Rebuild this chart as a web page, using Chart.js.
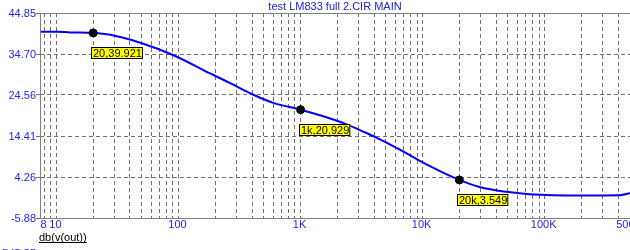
<!DOCTYPE html>
<html>
<head>
<meta charset="utf-8">
<script src="https://cdn.jsdelivr.net/npm/chart.js@4/dist/chart.umd.min.js"></script>
<style>
  html, body { margin: 0; padding: 0; background: #fff; }
  #chart { display: block; }
</style>
</head>
<body>
<canvas id="chart" width="630" height="250"></canvas>
<script>
const title = "test LM833 full 2.CIR MAIN";
const xAxisTitle = "db(v(out))";

// frequency response
const freqs = [7.33, 10, 13, 20, 27.6, 48.6, 91, 181.6, 219, 265, 398, 598, 1000, 1535, 2384, 3260, 4055, 6110, 8360, 10740, 20000, 29300, 48400, 75100, 116000, 200000, 409000, 500000];
const dbOut = [40.2, 40.2, 40.05, 39.921, 39.45, 37.5, 34.4, 29.9, 28.7, 27.5, 24.8, 22.6, 20.929, 19.3, 17.3, 15.5, 14.2, 11.5, 9.2, 7.4, 3.549, 1.8, 0.6, 0.0, -0.25, -0.3, -0.25, 0.25];

// cursor markers
const markFreqs = [20, 1000, 20000];
const markValues = [39.921, 20.929, 3.549];
const markLabels = ["20,39.921", "1k,20.929", "20k,3.549"];

const yTicks = [44.85, 34.70, 24.56, 14.41, 4.26, -5.88];
const xGrid = [8, 9, 10, 20, 30, 40, 50, 60, 70, 80, 90, 100, 200, 300, 400, 500, 600, 700, 800, 900,
  1000, 2000, 3000, 4000, 5000, 6000, 7000, 8000, 9000, 10000, 20000, 30000, 40000, 50000, 60000, 70000, 80000, 90000,
  100000, 200000, 300000, 400000];
const xTickValues = [8, 10, 100, 1000, 10000, 100000, 500000];
const xTickLabels = ["8", "10", "100", "1K", "10K", "100K", "500K"];

const blue = "#1f1fe8";
const font = "11px 'Liberation Sans', Arial, sans-serif";

const decorations = {
  id: "decorations",
  afterDraw(chart) {
    const ctx = chart.ctx;
    const xs = chart.scales.x, ys = chart.scales.y;
    const area = chart.chartArea;
    ctx.save();

    // solid frame top / left / bottom
    ctx.strokeStyle = "#808080";
    ctx.lineWidth = 1;
    ctx.setLineDash([]);
    ctx.beginPath();
    ctx.moveTo(area.left + 0.5, area.bottom + 0.5);
    ctx.lineTo(area.left + 0.5, area.top + 0.5);
    ctx.lineTo(area.right, area.top + 0.5);
    ctx.moveTo(area.left, area.bottom + 0.5);
    ctx.lineTo(area.right, area.bottom + 0.5);
    ctx.stroke();

    ctx.font = font;
    ctx.fillStyle = blue;
    ctx.textAlign = "right";
    ctx.textBaseline = "middle";
    yTicks.forEach(v => ctx.fillText(v.toFixed(2), 36, ys.getPixelForValue(v) + 0.5));

    ctx.textAlign = "center";
    xTickValues.forEach((v, i) => ctx.fillText(xTickLabels[i], xs.getPixelForValue(v) - 1, 225));

    // clipped label at the very bottom
    ctx.textAlign = "right";
    ctx.textBaseline = "top";
    ctx.fillText("-545.55", 36, 248);

    // title
    ctx.textAlign = "center";
    ctx.textBaseline = "middle";
    ctx.fillStyle = "#2020c8";
    ctx.fillText(title, (area.left + area.right) / 2, 7);

    // x axis title, underlined
    ctx.fillStyle = "#000";
    ctx.textAlign = "left";
    ctx.fillText(xAxisTitle, 39, 238);
    const w = ctx.measureText(xAxisTitle).width;
    ctx.fillRect(39, 242, w, 1);

    // marker labels
    markFreqs.forEach((f, i) => {
      const px = xs.getPixelForValue(f), py = ys.getPixelForValue(markValues[i]);
      const tw = ctx.measureText(markLabels[i]).width;
      const bx = Math.round(px - 2), by = Math.round(py + 14);
      ctx.fillStyle = "#ffff00";
      ctx.fillRect(bx, by, tw + 3, 12);
      ctx.strokeStyle = "#000";
      ctx.strokeRect(bx + 0.5, by + 0.5, tw + 2, 11);
      ctx.fillStyle = "#000";
      ctx.textAlign = "left";
      ctx.fillText(markLabels[i], bx + 2, by + 6.5);
    });
    ctx.restore();
  }
};

new Chart(document.getElementById("chart"), {
  type: "line",
  data: {
    datasets: [
      {
        data: freqs.map((f, i) => ({ x: f, y: dbOut[i] })),
        borderColor: "#0000ff",
        borderWidth: 2,
        pointRadius: 0,
        cubicInterpolationMode: "monotone",
        order: 2
      },
      {
        data: markFreqs.map((f, i) => ({ x: f, y: markValues[i] })),
        showLine: false,
        pointRadius: 4,
        pointBackgroundColor: "#000",
        pointBorderColor: "#000",
        order: 1
      }
    ]
  },
  options: {
    responsive: false,
    animation: false,
    layout: { autoPadding: false, padding: { top: 13, right: 0, left: 0, bottom: 0 } },
    plugins: { legend: { display: false }, tooltip: { enabled: false } },
    scales: {
      x: {
        type: "logarithmic",
        min: 7.33,
        max: 500000,
        afterBuildTicks: s => { s.ticks = xGrid.map(v => ({ value: v })); },
        afterFit: s => { s.height = 32; },
        ticks: { display: false },
        grid: { color: "#707070", drawTicks: false },
        border: { display: false, dash: [4, 3] }
      },
      y: {
        min: -5.88,
        max: 44.85,
        afterBuildTicks: s => { s.ticks = yTicks.map(v => ({ value: v })); },
        afterFit: s => { s.width = 40; },
        ticks: { display: false },
        grid: { color: "#707070", tickLength: 4 },
        border: { display: false, dash: [4, 3] }
      }
    }
  },
  plugins: [decorations]
});
</script>
</body>
</html>
